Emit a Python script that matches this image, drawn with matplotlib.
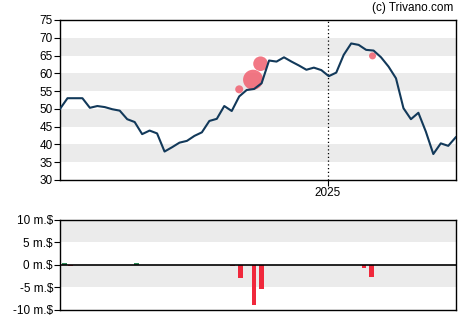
import matplotlib
matplotlib.use("Agg")
import matplotlib.pyplot as plt
import matplotlib.dates as mdates
import numpy as np
import pandas as pd

plt.rcParams['font.family'] = ['Liberation Sans', 'DejaVu Sans']

# weekly closing prices
dates = pd.date_range('2024-04-25', periods=54, freq='7D')
price = [50.0, 53.0, 53.0, 53.0, 50.3, 50.8, 50.5, 49.9, 49.5, 47.1,
         46.3, 42.9, 43.9, 43.1, 38.0, 39.2, 40.5, 41.0, 42.4, 43.4,
         46.6, 47.2, 50.8, 49.4, 53.5, 55.3, 55.6, 57.2, 63.6, 63.3,
         64.5, 63.3, 62.2, 61.0, 61.6, 60.9, 59.2, 60.2, 65.2, 68.4,
         68.0, 66.6, 66.4, 64.5, 61.9, 58.6, 50.2, 47.1, 48.9, 43.6,
         37.3, 40.3, 39.6, 42.0]

# insider trades (circles on the price line)
trade_dates = pd.to_datetime(['2024-10-10', '2024-10-23', '2024-10-30', '2025-02-12'])
trade_price = [55.5, 58.2, 62.7, 64.9]
trade_radius = [4.0, 10.0, 7.3, 3.5]

# net insider flow in million dollars
flow_dates = pd.to_datetime(['2024-04-29', '2024-05-05', '2024-07-06', '2024-10-04',
                             '2024-10-11', '2024-10-24', '2024-10-31', '2025-02-04',
                             '2025-02-11'])
flow = [0.45, -0.2, 0.4, -0.3, -2.8, -9.0, -5.3, -0.6, -2.6]

navy = '#12395a'
fig = plt.figure(figsize=(4.7, 3.25), dpi=100)
ax1 = fig.add_axes([0.1277, 0.4462, 0.8419, 0.4923])
ax2 = fig.add_axes([0.1277, 0.0462, 0.8419, 0.2769])

for lo in (35, 45, 55, 65):
    ax1.axhspan(lo, lo + 5, color='#ebebeb', lw=0, zorder=0)
ax1.plot(dates, price, color=navy, lw=1.5, zorder=3)
s = [(2 * r * 0.72) ** 2 for r in trade_radius]
ax1.scatter(trade_dates, trade_price, s=s, color='#f06070', alpha=0.85,
            edgecolors='none', zorder=2)
ax1.axvline(pd.Timestamp('2025-01-01'), color='black', lw=0.9, ls=(0, (1, 2)), zorder=1)
ax1.set_xlim(dates[0], dates[-1])
ax1.set_ylim(30, 75)
ax1.set_yticks(range(30, 80, 5))
ax1.set_xticks([pd.Timestamp('2025-01-01')])
ax1.xaxis.set_major_formatter(mdates.DateFormatter('%Y'))
ax1.tick_params(labelsize=8.5, length=4, width=0.8, pad=1)

ax2.axhspan(5, 10, color='#ebebeb', lw=0, zorder=0)
ax2.axhspan(-5, 0, color='#ebebeb', lw=0, zorder=0)
cols = ['#2e8b57' if v > 0 else '#f0283c' for v in flow]
ax2.bar(flow_dates, flow, width=4.4, color=cols, zorder=2)
ax2.axhline(0, color='black', lw=1.2, zorder=3)
ax2.set_xlim(dates[0], dates[-1])
ax2.set_ylim(-10, 10)
ax2.set_yticks([-10, -5, 0, 5, 10])
ax2.set_yticklabels(['-10 m.$', '-5 m.$', '0 m.$', '5 m.$', '10 m.$'])
ax2.set_xticks([])
ax2.tick_params(labelsize=8.5, length=4, width=0.8, pad=1)

for ax in (ax1, ax2):
    for sp in ax.spines.values():
        sp.set_linewidth(1.0)

fig.text(0.965, 0.975, '(c) Trivano.com', ha='right', va='center', fontsize=8.5)

fig.savefig('out.png', dpi=100)
